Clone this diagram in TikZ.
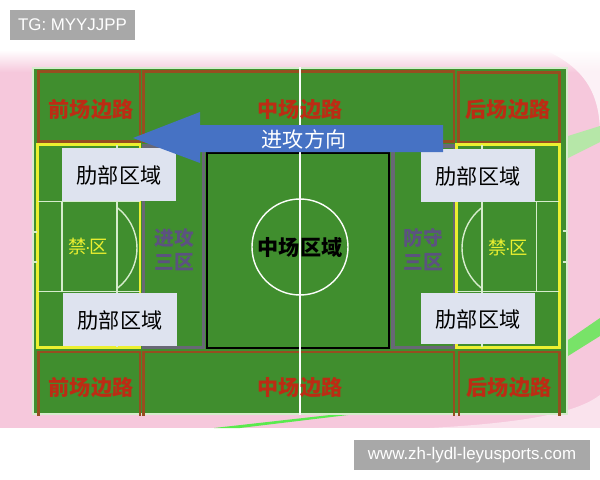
\documentclass[tikz,border=0pt]{standalone}
\usepackage{fontspec}
\newfontfamily\cjk{Noto Sans CJK SC}
\newfontfamily\wmfont{Liberation Sans}
\definecolor{fieldgreen}{RGB}{64,142,46}
\definecolor{edgebrown}{RGB}{150,78,32}
\definecolor{edgered}{RGB}{188,44,20}
\definecolor{thirdgray}{RGB}{104,104,118}
\definecolor{thirdtext}{RGB}{92,82,128}
\definecolor{ribfill}{RGB}{222,227,239}
\definecolor{arrowblue}{RGB}{70,114,196}
\definecolor{boxyellow}{RGB}{236,240,48}
\definecolor{chalk}{RGB}{214,236,204}
\definecolor{bgpink}{RGB}{246,200,220}
\definecolor{swoosh}{RGB}{150,220,130}
\definecolor{wmgray}{RGB}{168,168,168}

\begin{document}
\begin{tikzpicture}[x=0.025cm, y=-0.025cm,
    wing/.style={draw=edgebrown, line width=1.8pt},
    wingtext/.style={text=edgered, font=\cjk\bfseries\fontsize{15pt}{18pt}\selectfont},
    thirdline/.style={draw=thirdgray, line width=2.2pt},
    thirdlabel/.style={text=thirdtext, align=center, font=\cjk\bfseries\fontsize{14pt}{17pt}\selectfont},
    penalty/.style={draw=boxyellow, line width=2pt},
    chalkline/.style={draw=chalk, line width=1pt},
    ribtext/.style={font=\cjk\fontsize{15pt}{18pt}\selectfont},
    boxlabel/.style={text=boxyellow, font=\cjk\fontsize{13pt}{15pt}\selectfont},
    wmbox/.style={fill=wmgray, text=white, inner sep=0pt, minimum height=0.75cm,
        font=\wmfont\fontsize{12pt}{14pt}\selectfont}]
    % 背景
    \fill[white] (0,0) rectangle (600,480);
    \useasboundingbox (0,0) rectangle (600,480);
    \fill[bgpink] (0,50) rectangle (600,428);
    \shade[top color=white, bottom color=bgpink] (0,50) rectangle (600,72);
    \fill[white, opacity=.75] (545,50) .. controls (590,70) and (600,100) .. (600,135) -- (600,50) -- cycle;
    \fill[white, opacity=.5] (430,428) .. controls (540,422) and (580,410) .. (600,395) -- (600,428) -- cycle;
    \fill[swoosh!70!white] (568,136) -- (600,126) -- (600,142) -- (568,158) -- cycle;
    \fill[swoosh!80!green] (568,340) -- (600,318) -- (600,336) -- (568,356) -- cycle;
    \fill[swoosh!60!green] (214,428) -- (330,415) -- (348,415) -- (240,428) -- cycle;

    % 球场
    \fill[fieldgreen] (32,67) rectangle (568,415);
    \draw[chalkline] (33,68) rectangle (567,414);

    % 边路
    \begin{scope}
        \clip (32,67) rectangle (568,415);
        \draw[wing] (38.5,71.5) rectangle (140,141.5);
        \draw[wing] (143.5,71.5) rectangle (454,141.5);
        \draw[wing] (458.5,72.5) rectangle (559.5,142);
        \draw[wing] (38.5,352) rectangle (140,425);
        \draw[wing] (143.5,352) rectangle (454,425);
        \draw[wing] (459,352) rectangle (559.5,425);
    \end{scope}

    % 三区与中场
    \draw[thirdline] (143.5,146) rectangle (203.5,347.5);
    \draw[thirdline] (393,146) rectangle (455,347.5);
    \draw[black, line width=1.8pt] (207,153) rectangle (389,348);

    % 禁区
    \draw[penalty] (37.5,144.5) rectangle (140,347.5);
    \draw[penalty] (456.5,144.5) rectangle (559.5,347.5);
    \draw[chalkline] (38,201.5) -- (140,201.5) (38,291.5) -- (140,291.5);
    \draw[chalkline] (62,201.5) -- (62,291.5) (117,145) -- (117,347);
    \draw[chalkline] (457,201.5) -- (559,201.5) (457,291.5) -- (559,291.5);
    \draw[chalkline] (536.5,201.5) -- (536.5,291.5) (482,145) -- (482,347);
    \begin{scope}
        \clip (117,201.5) rectangle (145,291.5);
        \draw[chalkline] (86,248) circle (51);
    \end{scope}
    \begin{scope}
        \clip (455,201.5) rectangle (482,291.5);
        \draw[chalkline] (513,248) circle (51);
    \end{scope}
    \draw[chalkline] (33,232) -- (37,232) (33,262) -- (37,262);
    \draw[chalkline] (563,231) -- (567,231) (563,262) -- (567,262);

    % 中线与中圈
    \draw[chalkline, draw=white!90!chalk] (300,67) -- (300,415);
    \draw[chalkline, draw=white!90!chalk] (300,247) circle (48);

    % 肋部
    \fill[ribfill] (62,148) rectangle (176,201);
    \fill[ribfill] (63,293) rectangle (177,346);
    \fill[ribfill] (421,149) rectangle (535,202);
    \fill[ribfill] (421,293) rectangle (535,344);
    \node[ribtext] (ribTL) at (119,175) {肋部区域};
    \node[ribtext] (ribBL) at (120,320) {肋部区域};
    \node[ribtext] (ribTR) at (478,176) {肋部区域};
    \node[ribtext] (ribBR) at (478,319) {肋部区域};

    % 文字
    \node[wingtext] (frontTop) at (91,110) {前场边路};
    \node[wingtext] (midTop) at (300,110) {中场边路};
    \node[wingtext] (backTop) at (508,110) {后场边路};
    \node[wingtext] (frontBot) at (91,388) {前场边路};
    \node[wingtext] (midBot) at (300,388) {中场边路};
    \node[wingtext] (backBot) at (509,388) {后场边路};
    \node[boxlabel] (boxL) at (88,247) {禁{\wmfont\kern-1pt·\kern-1pt}区};
    \node[boxlabel] (boxR) at (508,248) {禁{\wmfont\kern-1pt·\kern-1pt}区};
    \node[thirdlabel] (attack) at (174,250) {进攻\\三区};
    \node[thirdlabel] (defend) at (423,250) {防守\\三区};
    \node[ribtext, font=\cjk\bfseries\fontsize{15pt}{18pt}\selectfont] (centre) at (300,247) {中场区域};

    % 进攻方向
    \fill[arrowblue] (133,138) -- (200,112) -- (200,125) -- (443,125)
        -- (443,152) -- (200,152) -- (200,163) -- cycle;
    \node[text=white, font=\cjk\fontsize{15pt}{18pt}\selectfont] (dir) at (304,139) {进攻方向};

    % 水印
    \node[wmbox, minimum width=3.125cm] (tg) at (72.5,25) {TG: MYYJJPP};
    \node[wmbox, minimum width=5.9cm] (site) at (472,455) {www.zh-lydl-leyusports.com};
\end{tikzpicture}
\end{document}
